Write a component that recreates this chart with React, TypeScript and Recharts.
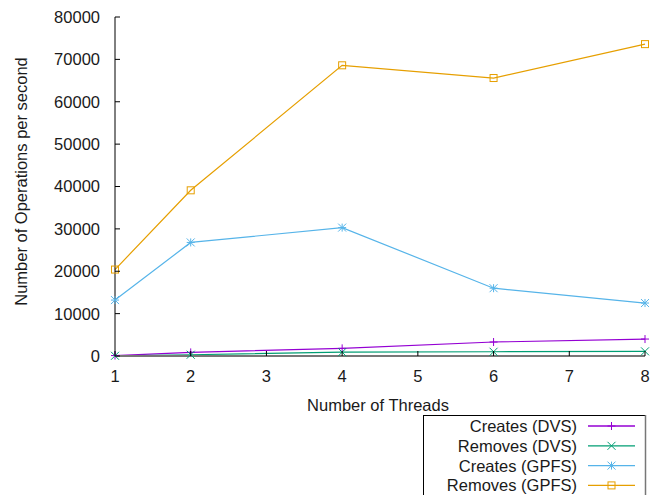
import { LineChart, Line, XAxis, YAxis, Legend } from "recharts";

const threads = [1, 2, 4, 6, 8];
const createsDVS = [100, 850, 1800, 3300, 4000];
const removesDVS = [50, 300, 900, 1000, 1100];
const createsGPFS = [13200, 26800, 30300, 16000, 12500];
const removesGPFS = [20400, 39100, 68600, 65600, 73600];

const xTicks = [1, 2, 3, 4, 5, 6, 7, 8];
const yTicks = [0, 10000, 20000, 30000, 40000, 50000, 60000, 70000, 80000];

const seriesNames = ["Creates (DVS)", "Removes (DVS)", "Creates (GPFS)", "Removes (GPFS)"];
const seriesKeys = ["createsDVS", "removesDVS", "createsGPFS", "removesGPFS"];
const seriesColors = ["#9400d3", "#009e73", "#56b4e9", "#e69f00"];
const seriesMarks = ["plus", "cross", "star", "square"];

const data = threads.map((t, i) => ({
  threads: t,
  createsDVS: createsDVS[i],
  removesDVS: removesDVS[i],
  createsGPFS: createsGPFS[i],
  removesGPFS: removesGPFS[i],
}));

const FONT = "'Liberation Sans', Arial, sans-serif";
const FS = 16.5;
const TEXT = "#1a1a1a";
const TICK = 5;
// legend sits under the plot; recharts adds its height to the bottom offset
const LEGEND_H = 82;

function Marker({ kind, x, y, color }: { kind: string; x: number; y: number; color: string }) {
  const s = 4;
  const plus = (
    <>
      <line x1={x - s} x2={x + s} y1={y} y2={y} />
      <line x1={x} x2={x} y1={y - s} y2={y + s} />
    </>
  );
  const cross = (
    <>
      <line x1={x - s} x2={x + s} y1={y - s} y2={y + s} />
      <line x1={x - s} x2={x + s} y1={y + s} y2={y - s} />
    </>
  );
  return (
    <g stroke={color} strokeWidth={1} fill="none">
      {kind === "plus" && plus}
      {kind === "cross" && cross}
      {kind === "star" && (
        <>
          {plus}
          {cross}
        </>
      )}
      {kind === "square" && <rect x={x - 3.5} y={y - 3.5} width={7} height={7} />}
    </g>
  );
}

const makeDot = (kind: string, color: string) => (p: any) => {
  if (p.cx == null || p.cy == null) return <g key={p.key} />;
  return <Marker key={p.key} kind={kind} x={p.cx} y={p.cy} color={color} />;
};

const BottomTick = (p: any) => (
  <g>
    <line x1={p.x} x2={p.x} y1={p.y} y2={p.y - TICK} stroke="#000" />
    <text x={p.x} y={p.y + 26} textAnchor="middle" fontFamily={FONT} fontSize={FS} fill={TEXT}>
      {p.payload.value}
    </text>
  </g>
);

const TopTick = (p: any) => (
  <line x1={p.x} x2={p.x} y1={p.y} y2={p.y + TICK} stroke="#000" />
);

const LeftTick = (p: any) => (
  <g>
    <line x1={p.x} x2={p.x + TICK} y1={p.y} y2={p.y} stroke="#000" />
    <text x={p.x - 15} y={p.y} dy="0.36em" textAnchor="end" fontFamily={FONT} fontSize={FS} fill={TEXT}>
      {p.payload.value}
    </text>
  </g>
);

const RightTick = (p: any) => (
  <line x1={p.x} x2={p.x - TICK} y1={p.y} y2={p.y} stroke="#000" />
);

const XLabel = (p: any) => {
  const vb = p.viewBox;
  return (
    <text x={vb.x + vb.width / 2 - 2} y={vb.y + 55} textAnchor="middle" fontFamily={FONT} fontSize={FS} fill={TEXT}>
      Number of Threads
    </text>
  );
};

const YLabel = (p: any) => {
  const vb = p.viewBox;
  const cy = vb.y + vb.height / 2 - 5;
  return (
    <text
      transform={`translate(21, ${cy}) rotate(-90)`}
      textAnchor="middle"
      dominantBaseline="central"
      fontFamily={FONT}
      fontSize={FS}
      fill={TEXT}
    >
      Number of Operations per second
    </text>
  );
};

function LegendBox() {
  return (
    <svg width={224} height={LEGEND_H} style={{ display: "block" }}>
      <line x1={0.5} x2={0.5} y1={0} y2={LEGEND_H} stroke="#000" />
      <line x1={0} x2={223} y1={0.5} y2={0.5} stroke="#000" />
      <line x1={222.5} x2={222.5} y1={0} y2={LEGEND_H} stroke="#777" strokeWidth={1.5} />
      {seriesNames.map((name, i) => {
        const y = 11 + i * 19.8;
        return (
          <g key={name}>
            <text x={154} y={y} dy="0.36em" textAnchor="end" fontFamily={FONT} fontSize={FS} fill={TEXT}>
              {name}
            </text>
            <line x1={165} x2={212} y1={y} y2={y} stroke={seriesColors[i]} strokeWidth={1.3} />
            <Marker kind={seriesMarks[i]} x={188.5} y={y} color={seriesColors[i]} />
          </g>
        );
      })}
    </svg>
  );
}

export default function App() {
  return (
    <div style={{ position: "absolute", left: 0, top: 0, width: 660, height: 495, background: "#fff" }}>
      <LineChart width={660} height={495} data={data} margin={{ top: 17, right: 15, bottom: 0, left: 0 }}>
        <XAxis
          xAxisId="b"
          dataKey="threads"
          type="number"
          domain={[1, 8]}
          ticks={xTicks}
          height={139 - LEGEND_H}
          tickSize={0}
          tickMargin={0}
          tickLine={false}
          axisLine={{ stroke: "#777", strokeWidth: 2 }}
          tick={BottomTick}
          interval={0}
          label={{ content: XLabel }}
        />
        <XAxis
          xAxisId="t"
          orientation="top"
          dataKey="threads"
          type="number"
          domain={[1, 8]}
          ticks={xTicks}
          height={0}
          tickSize={0}
          tickMargin={0}
          tickLine={false}
          axisLine={{ stroke: "#000" }}
          tick={TopTick}
          interval={0}
        />
        <YAxis
          yAxisId="l"
          type="number"
          domain={[0, 80000]}
          ticks={yTicks}
          width={115}
          tickSize={0}
          tickMargin={0}
          tickLine={false}
          axisLine={{ stroke: "#000" }}
          tick={LeftTick}
          interval={0}
          label={{ content: YLabel }}
        />
        <YAxis
          yAxisId="r"
          orientation="right"
          type="number"
          domain={[0, 80000]}
          ticks={yTicks}
          width={0}
          tickSize={0}
          tickMargin={0}
          tickLine={false}
          axisLine={{ stroke: "#777", strokeWidth: 2 }}
          tick={RightTick}
          interval={0}
        />
        {seriesKeys.map((k, i) => (
          <Line
            key={k}
            xAxisId="b"
            yAxisId="l"
            dataKey={k}
            name={seriesNames[i]}
            type="linear"
            stroke={seriesColors[i]}
            strokeWidth={1.2}
            dot={makeDot(seriesMarks[i], seriesColors[i])}
            activeDot={false}
            isAnimationActive={false}
          />
        ))}
        <Legend
          content={() => <LegendBox />}
          wrapperStyle={{ position: "absolute", left: 423, top: 415, width: 224, height: LEGEND_H, bottom: "auto", right: "auto" }}
        />
      </LineChart>
    </div>
  );
}
